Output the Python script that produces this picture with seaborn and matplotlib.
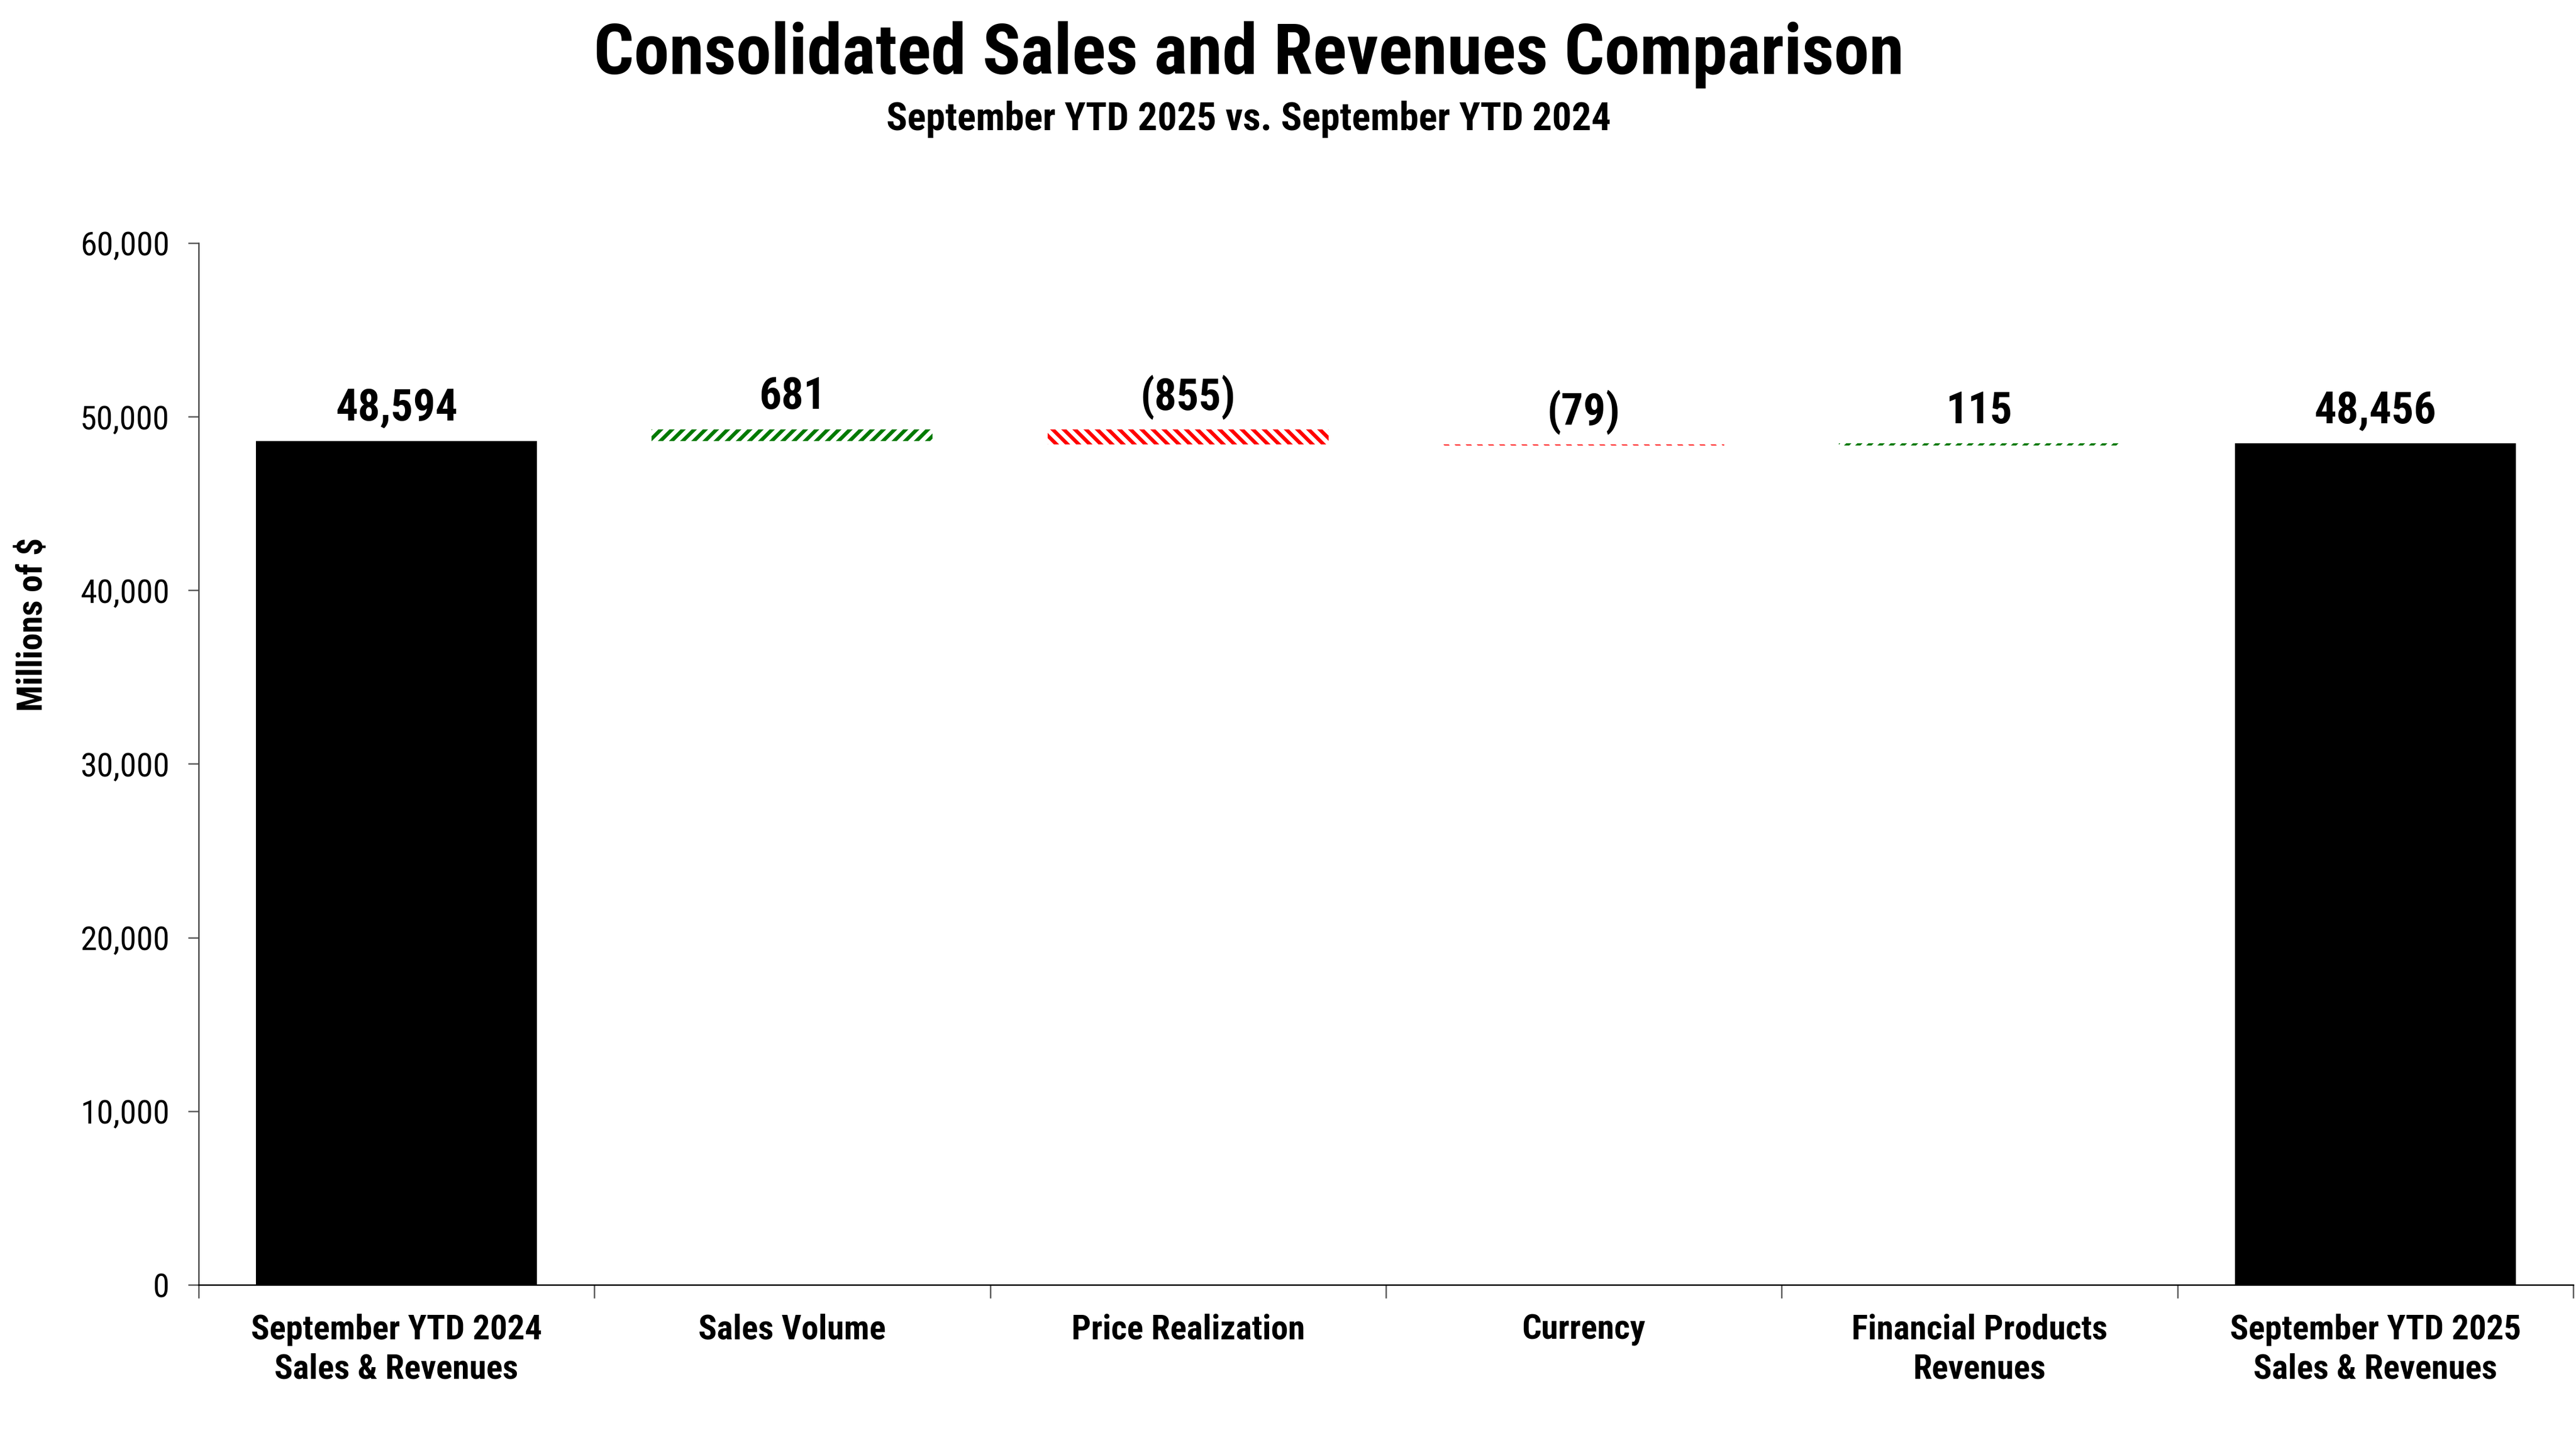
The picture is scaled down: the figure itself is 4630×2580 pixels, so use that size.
import numpy as np
import seaborn as sns
import matplotlib.pyplot as plt
from matplotlib.ticker import FuncFormatter

sns.set_theme(style='white')
plt.rcParams['font.family'] = ['Roboto Condensed', 'Liberation Sans', 'DejaVu Sans']
plt.rcParams['text.color'] = 'black'
plt.rcParams['xtick.labelcolor'] = 'black'
plt.rcParams['ytick.labelcolor'] = 'black'
plt.rcParams['hatch.linewidth'] = 1.6

categories = ['September YTD 2024\nSales & Revenues', 'Sales Volume', 'Price Realization',
              'Currency', 'Financial Products\nRevenues', 'September YTD 2025\nSales & Revenues']
start_total = 48594
changes = [681, -855, -79, 115]
end_total = 48456

# waterfall: floating bars for the changes
bottoms = [0]
heights = [start_total]
running = start_total
for c in changes:
    bottoms.append(min(running, running + c))
    heights.append(abs(c))
    running += c
bottoms.append(0)
heights.append(end_total)
values = [start_total] + changes + [end_total]


def fmt_value(v):
    return f'({abs(v):,})' if v < 0 else f'{v:,}'


fig = plt.figure(figsize=(4630 / 300, 2580 / 300), dpi=300)
ax = fig.add_axes([0.0771, 0.1047, 0.9218, 0.7259])

sns.barplot(x=categories, y=heights, bottom=bottoms, width=0.71, color='black',
            saturation=1, errorbar=None, ax=ax)

for i, patch in enumerate(ax.patches):
    v = values[i]
    patch.set_linewidth(0)
    if i == 0 or i == len(values) - 1:
        patch.set_facecolor('black')
        patch.set_edgecolor('black')
    elif v > 0:
        patch.set_facecolor('white')
        patch.set_edgecolor('#007a00')
        patch.set_hatch('/////')
    else:
        patch.set_facecolor('white')
        patch.set_edgecolor('#ff0000')
        patch.set_hatch('\\\\\\\\\\')
    top = bottoms[i] + heights[i]
    ax.annotate(fmt_value(v), (i, top), xytext=(0, 14), textcoords='offset points',
                ha='center', va='center', fontsize=19, fontweight='bold', color='black')

ax.set_ylim(0, 60000)
ax.set_xlim(-0.5, 5.5)
ax.set_yticks(np.arange(0, 60001, 10000))
ax.yaxis.set_major_formatter(FuncFormatter(lambda y, p: f'{int(y):,}'))
ax.tick_params(axis='y', which='major', left=True, length=4.6, width=0.6, color='#555555',
               direction='out', pad=8, labelsize=14.5)
ax.set_xticks(np.arange(-0.5, 6, 1), minor=True)
ax.tick_params(axis='x', which='major', length=0, pad=12.5, labelsize=14.8)
ax.tick_params(axis='x', which='minor', bottom=True, length=5.8, width=0.6, color='#555555',
               direction='out')
for lab in ax.get_xticklabels():
    lab.set_fontweight('bold')
    lab.set_linespacing(1.27)

sns.despine(ax=ax)
ax.spines['left'].set_color('#444444')
ax.spines['left'].set_linewidth(0.6)
ax.spines['bottom'].set_color('black')
ax.spines['bottom'].set_linewidth(0.6)
ax.set_xlabel('')
ax.set_ylabel('')

fig.text(0.0127, 0.565, 'Millions of $', rotation=90, ha='center', va='center',
         fontsize=15, fontweight='bold')
fig.text(0.4847, 0.962, 'Consolidated Sales and Revenues Comparison', ha='center', va='center',
         fontsize=30.5, fontweight='bold')
fig.text(0.4847, 0.917, 'September YTD 2025 vs. September YTD 2024', ha='center', va='center',
         fontsize=16.8, fontweight='bold')

fig.savefig('out.png', dpi=300, facecolor='white')
